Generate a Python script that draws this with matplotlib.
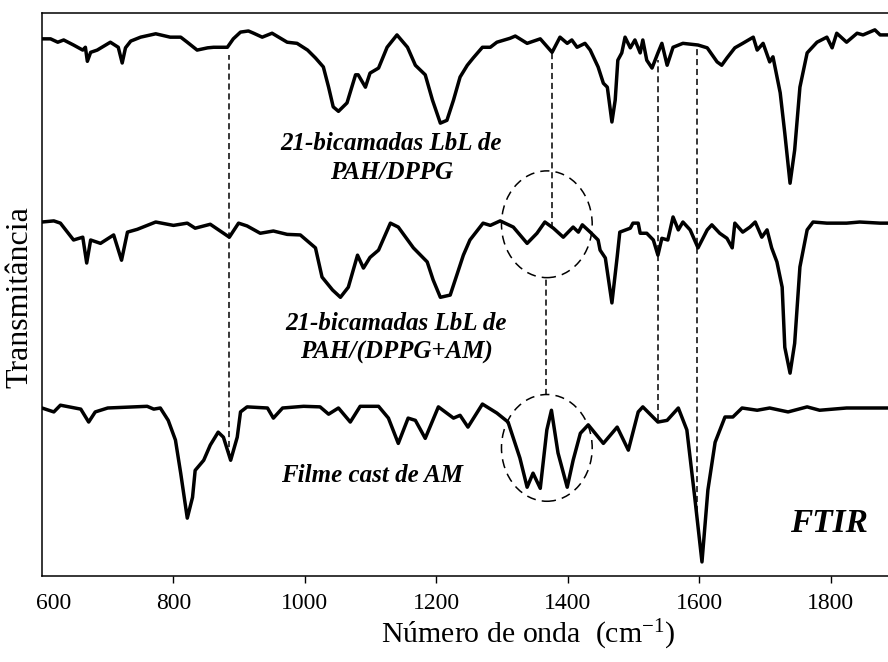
import matplotlib
matplotlib.use("Agg")
import matplotlib.pyplot as plt
from matplotlib.patches import Ellipse
from matplotlib.transforms import ScaledTranslation

plt.rcParams["font.family"] = ["Liberation Serif", "DejaVu Serif"]
plt.rcParams["mathtext.fontset"] = "custom"
plt.rcParams["mathtext.rm"] = "Liberation Serif"
plt.rcParams["mathtext.it"] = "Liberation Serif:italic"

# FTIR spectra (wavenumber in cm-1, transmittance in a.u., curves vertically offset)
wn_top = [600, 613, 624, 633, 648, 662, 666, 669, 674, 684, 704, 716, 722, 727, 735, 750, 773, 795,
          811, 821, 836, 852, 861, 882, 891, 902, 914, 922, 935, 950, 973, 988, 1004, 1016, 1028,
          1036, 1043, 1051, 1064, 1077, 1081, 1092, 1099, 1112, 1125, 1140, 1156, 1168, 1183, 1194,
          1206, 1216, 1226, 1236, 1247, 1256, 1270, 1282, 1292, 1312, 1320, 1338, 1358, 1376, 1388,
          1399, 1406, 1414, 1426, 1434, 1446, 1454, 1460, 1467, 1472, 1476, 1482, 1487, 1495, 1502,
          1510, 1514, 1520, 1528, 1537, 1543, 1551, 1560, 1575, 1598, 1612, 1627, 1634, 1642, 1654,
          1666, 1682, 1688, 1697, 1707, 1712, 1723, 1730, 1738, 1745, 1753, 1764, 1779, 1794, 1802,
          1809, 1824, 1840, 1849, 1867, 1875, 1887]
t_top = [95.6, 95.6, 95.0, 95.4, 94.5, 93.6, 94.1, 91.6, 93.2, 93.6, 95.0, 94.1, 91.3, 94.0, 95.2,
         95.9, 96.5, 95.9, 95.9, 95.0, 93.6, 94.0, 94.1, 94.1, 95.6, 96.8, 97.0, 96.6, 95.9, 96.6,
         95.0, 94.8, 93.6, 92.2, 90.6, 87.0, 83.5, 82.7, 84.2, 89.2, 89.2, 87.0, 89.5, 90.4, 94.1,
         96.3, 94.1, 90.9, 89.2, 84.7, 80.6, 81.1, 84.7, 88.8, 90.9, 92.2, 94.1, 94.1, 95.0, 95.7,
         96.1, 94.8, 95.6, 93.2, 95.9, 94.8, 95.4, 94.1, 94.8, 93.6, 90.6, 87.7, 87.0, 80.8, 84.7,
         91.8, 93.1, 95.9, 94.0, 95.4, 93.1, 95.4, 91.8, 90.4, 93.1, 94.8, 90.9, 94.1, 94.8, 94.5,
         94.0, 91.5, 90.9, 92.2, 94.0, 94.8, 95.9, 93.6, 94.8, 91.5, 92.4, 86.0, 78.8, 69.9, 75.8,
         87.0, 93.1, 95.0, 95.9, 94.0, 96.6, 95.0, 96.6, 96.3, 97.2, 96.3, 96.3]

wn_mid = [600, 618, 628, 648, 662, 668, 674, 689, 709, 721, 730, 745, 773, 800, 821, 833, 856, 885,
          899, 912, 932, 952, 973, 993, 1016, 1026, 1042, 1054, 1066, 1080, 1089, 1099, 1112, 1130,
          1142, 1165, 1186, 1195, 1206, 1221, 1232, 1241, 1251, 1271, 1282, 1297, 1317, 1338, 1353,
          1365, 1378, 1393, 1408, 1416, 1422, 1434, 1446, 1449, 1457, 1467, 1475, 1479, 1495, 1499,
          1507, 1510, 1520, 1530, 1537, 1543, 1552, 1560, 1568, 1575, 1586, 1598, 1612, 1619, 1631,
          1642, 1650, 1654, 1666, 1677, 1685, 1695, 1703, 1710, 1718, 1726, 1730, 1738, 1745, 1753,
          1764, 1773, 1794, 1824, 1844, 1875, 1887]
t_mid = [63.0, 63.2, 62.8, 59.8, 60.3, 55.7, 59.8, 59.2, 60.7, 56.2, 61.2, 61.7, 63.0, 62.4, 62.8,
         61.9, 62.6, 60.3, 62.8, 62.3, 61.0, 61.4, 60.8, 60.7, 58.4, 53.2, 50.9, 49.6, 51.4, 57.1,
         54.8, 56.7, 58.0, 62.8, 62.1, 58.4, 55.9, 52.7, 49.6, 50.0, 53.9, 57.1, 59.8, 62.8, 62.4,
         63.2, 62.1, 59.2, 61.0, 63.0, 61.9, 60.3, 62.1, 61.2, 62.5, 61.2, 59.8, 58.0, 56.6, 48.6,
         56.8, 61.2, 61.9, 62.8, 62.8, 61.0, 61.0, 59.8, 57.1, 60.1, 59.8, 63.9, 61.6, 63.0, 61.6,
         58.4, 61.6, 62.5, 61.0, 60.1, 58.4, 62.8, 61.2, 62.1, 63.0, 60.3, 61.6, 58.4, 55.9, 51.4,
         40.7, 36.1, 41.4, 55.0, 61.6, 63.0, 62.8, 62.8, 63.0, 62.8, 62.8]

wn_bot = [600, 618, 628, 659, 671, 681, 700, 760, 770, 780, 792, 803, 811, 821, 829, 833, 846, 856,
          868, 876, 887, 897, 902, 912, 943, 952, 966, 998, 1023, 1036, 1051, 1069, 1084, 1112, 1127,
          1142, 1157, 1168, 1183, 1203, 1226, 1236, 1248, 1270, 1292, 1309, 1327, 1338, 1347, 1358,
          1368, 1375, 1385, 1399, 1408, 1419, 1431, 1454, 1475, 1492, 1507, 1514, 1537, 1551, 1568,
          1581, 1593, 1604, 1613, 1624, 1639, 1651, 1665, 1688, 1707, 1735, 1764, 1783, 1824, 1887]
t_bot = [29.9, 29.2, 30.4, 29.7, 27.4, 29.2, 29.9, 30.2, 29.7, 29.9, 27.7, 24.2, 18.3, 10.3, 14.0,
         18.8, 20.6, 23.3, 25.6, 24.7, 20.6, 24.7, 29.2, 30.1, 29.9, 28.1, 29.9, 30.2, 30.1, 28.8,
         29.9, 27.4, 30.2, 30.2, 28.1, 23.6, 28.1, 27.7, 24.5, 30.1, 28.1, 28.6, 26.5, 30.6, 29.0,
         27.4, 21.0, 15.8, 18.3, 15.6, 26.0, 29.5, 21.9, 15.8, 20.6, 25.4, 26.9, 23.6, 26.5, 22.4,
         29.2, 30.1, 27.4, 27.7, 29.9, 26.0, 14.0, 2.5, 15.3, 23.8, 28.3, 28.3, 29.9, 29.5, 29.9,
         29.2, 30.1, 29.5, 29.9, 29.9]

# band guides: position and vertical extent
guide_wn = [885, 1376, 1366, 1537, 1597]
guide_lo = [21.2, 61.9, 32.2, 27.7, 11.4]
guide_hi = [92.7, 93.2, 53.0, 91.8, 94.0]

# highlighted region around ~1368 cm-1 in the two lower spectra
ring_wn = 1368
ring_t = [62.6, 22.8]

xticks = [600, 800, 1000, 1200, 1400, 1600, 1800]

fig = plt.figure(figsize=(8.88, 6.62), dpi=100)
ax = fig.add_axes([42 / 888, 86 / 662, 846 / 888, 563 / 662])

for wn, t in ((wn_top, t_top), (wn_mid, t_mid), (wn_bot, t_bot)):
    ax.plot(wn, t, color="black", lw=2.5, solid_joinstyle="round", solid_capstyle="round",
            zorder=3)

for x, lo, hi in zip(guide_wn, guide_lo, guide_hi):
    ax.plot([x, x], [lo, hi], color="black", lw=1.1, dashes=(4, 2.5), zorder=2)

for yc in ring_t:
    ax.add_patch(Ellipse((ring_wn, yc), 138, 19.0, fill=False, edgecolor="black",
                         lw=1.1, linestyle=(0, (6, 4)), zorder=2))

lab = dict(fontsize=18, fontweight="bold", fontstyle="italic", ha="center", va="center")
ax.text(1131, 77.0, "21-bicamadas LbL de", **lab)
ax.text(1131, 71.9, "PAH/DPPG", **lab)
ax.text(1139, 45.0, "21-bicamadas LbL de", **lab)
ax.text(1139, 39.7, "PAH/(DPPG+AM)", **lab)
ax.text(1102, 17.9, "Filme cast de AM", **lab)
ax.text(1797, 9.4, "FTIR", fontsize=24, fontweight="bold", fontstyle="italic",
        ha="center", va="center")

ax.set_xlim(600, 1887)
ax.set_ylim(0, 100.2)
ax.set_xticks(xticks)
ax.set_xticklabels([str(v) for v in xticks])
ax.set_yticks([])
ax.tick_params(axis="x", direction="out", length=5, width=1.0, labelsize=17, pad=7)
ax.xaxis.get_major_ticks()[0].tick1line.set_visible(False)
first = ax.get_xticklabels()[0]
first.set_transform(first.get_transform() + ScaledTranslation(0.12, 0, fig.dpi_scale_trans))

ax.spines["right"].set_visible(False)
for s in ("left", "top", "bottom"):
    ax.spines[s].set_linewidth(1.1)

fig.text(528 / 888, 1 - 635 / 662, "Número de onda  (cm$^{\\mathrm{-1}}$)",
         fontsize=21.5, ha="center", va="center")
fig.text(20 / 888, 1 - 297 / 662, "Transmitância", fontsize=23, rotation=90,
         ha="center", va="center")

fig.savefig("out.png", dpi=100)
